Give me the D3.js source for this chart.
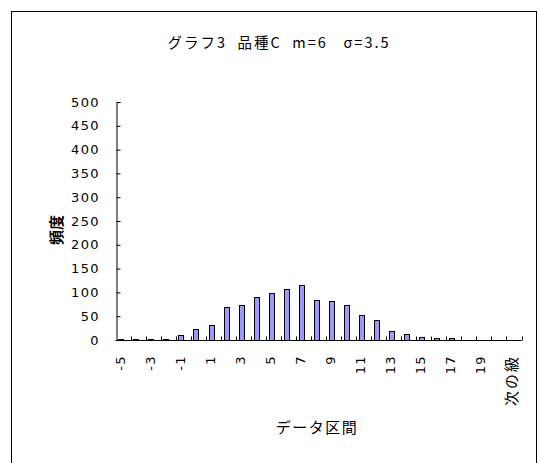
<!DOCTYPE html>
<html>
<head>
<meta charset="utf-8">
<script src="https://cdn.jsdelivr.net/npm/d3@7"></script>
<style>
  html, body { margin: 0; padding: 0; background: #fff; }
  svg { display: block; }
  text { fill: #000; }
</style>
</head>
<body>
<svg id="chart" width="539" height="463"></svg>
<script>
// ---- data ----
const categories = ["-5","-4","-3","-2","-1","0","1","2","3","4","5","6","7","8","9","10",
                    "11","12","13","14","15","16","17","18","19","20","次の級"];
const frequencies = [3,3,3,3,11,24,32,70,74,91,98,108,115,84,81,74,53,43,19,12,7,4,4,0,0,0,0];
const yTicks = [0,50,100,150,200,250,300,350,400,450,500];
const titleText = "グラフ3\u00a0\u00a0品種C\u00a0\u00a0m=6\u00a0\u00a0\u00a0σ=3.5";
const xTitle = "データ区間";
const yTitle = "頻度";

// ---- layout ----
const W = 539, H = 463;
const plot = { left: 115.5, right: 521.5, top: 102, bottom: 340 };
const svg = d3.select("#chart");
const labelFont = "'DejaVu Sans', sans-serif";
const cjkFont = "'Noto Sans CJK JP', sans-serif";

// outer frame
svg.append("rect")
  .attr("x", 11.5).attr("y", 11.5)
  .attr("width", 525).attr("height", 470)
  .attr("fill", "none").attr("stroke", "#000").attr("stroke-width", 1);

const x = d3.scaleBand().domain(categories).range([plot.left, plot.right]).paddingInner(0).paddingOuter(0);
const y = d3.scaleLinear().domain([0, 500]).range([plot.bottom, plot.top]);
const shift = -2;
const barW = x.bandwidth() * 0.36;

// bars
svg.append("g").selectAll("rect")
  .data(frequencies.map((v, i) => ({ c: categories[i], v })))
  .join("rect")
  .attr("x", d => Math.round(x(d.c) + x.bandwidth() / 2 + shift - barW / 2) + 0.5)
  .attr("y", d => Math.round(y(d.v)) + 0.5)
  .attr("width", Math.round(barW))
  .attr("height", d => Math.max(0, Math.round(y(0)) - Math.round(y(d.v))))
  .attr("fill", "#9999ff")
  .attr("stroke", "#000")
  .attr("stroke-width", 1);

// y axis
const yAxis = d3.axisRight(y).tickValues(yTicks).tickSize(4).tickFormat("");
const gy = svg.append("g").attr("transform", `translate(${Math.round(plot.left) + 0.5},0)`).call(yAxis);
gy.select(".domain").attr("stroke", "#000");
gy.selectAll(".tick line").attr("stroke", "#000");

// y labels
svg.append("g").selectAll("text")
  .data(yTicks)
  .join("text")
  .attr("x", 100)
  .attr("y", d => y(d))
  .attr("text-anchor", "end")
  .attr("dominant-baseline", "central")
  .style("font-family", labelFont)
  .style("font-size", "13px")
  .style("letter-spacing", "1.4px")
  .text(d => d);

// x axis line + ticks at category boundaries
const boundaries = categories.map(c => x(c)).concat([plot.right]);
const gx = svg.append("g");
gx.append("line")
  .attr("x1", plot.left).attr("x2", plot.right)
  .attr("y1", Math.round(y(0)) + 0.5).attr("y2", Math.round(y(0)) + 0.5)
  .attr("stroke", "#000");
gx.selectAll("line.tk")
  .data(boundaries.slice(1))
  .join("line")
  .attr("class", "tk")
  .attr("x1", d => Math.round(d) + 0.5).attr("x2", d => Math.round(d) + 0.5)
  .attr("y1", Math.round(y(0)) + 0.5).attr("y2", Math.round(y(0)) - 3.5)
  .attr("stroke", "#000");

// x labels (every other category), rotated
svg.append("g").selectAll("text")
  .data(categories.filter((c, i) => i % 2 === 0))
  .join("text")
  .attr("transform", d => `translate(${x(d) + x.bandwidth() / 2 + shift - 1},355) rotate(-90)`)
  .attr("text-anchor", "end")
  .attr("dominant-baseline", "central")
  .style("font-family", d => /[^\x00-\x7f]/.test(d) ? cjkFont : labelFont)
  .style("font-size", d => /[^\x00-\x7f]/.test(d) ? "15px" : "13px")
  .style("letter-spacing", d => /[^\x00-\x7f]/.test(d) ? "2px" : "1.4px")
  .text(d => d);

// title
svg.append("text")
  .attr("x", 279).attr("y", 41)
  .attr("text-anchor", "middle")
  .attr("dominant-baseline", "central")
  .style("font-family", cjkFont)
  .style("font-size", "14.5px")
  .style("letter-spacing", "2px")
  .text(titleText);

// x title
svg.append("text")
  .attr("x", 317).attr("y", 426)
  .attr("text-anchor", "middle")
  .attr("dominant-baseline", "central")
  .style("font-family", cjkFont)
  .style("font-size", "15px")
  .style("letter-spacing", "1.5px")
  .text(xTitle);

// y title
svg.append("text")
  .attr("transform", "translate(55,230) rotate(-90)")
  .attr("text-anchor", "middle")
  .attr("dominant-baseline", "central")
  .style("font-family", cjkFont)
  .style("font-size", "15px")
  .style("font-weight", "bold")
  .text(yTitle);
</script>
</body>
</html>
